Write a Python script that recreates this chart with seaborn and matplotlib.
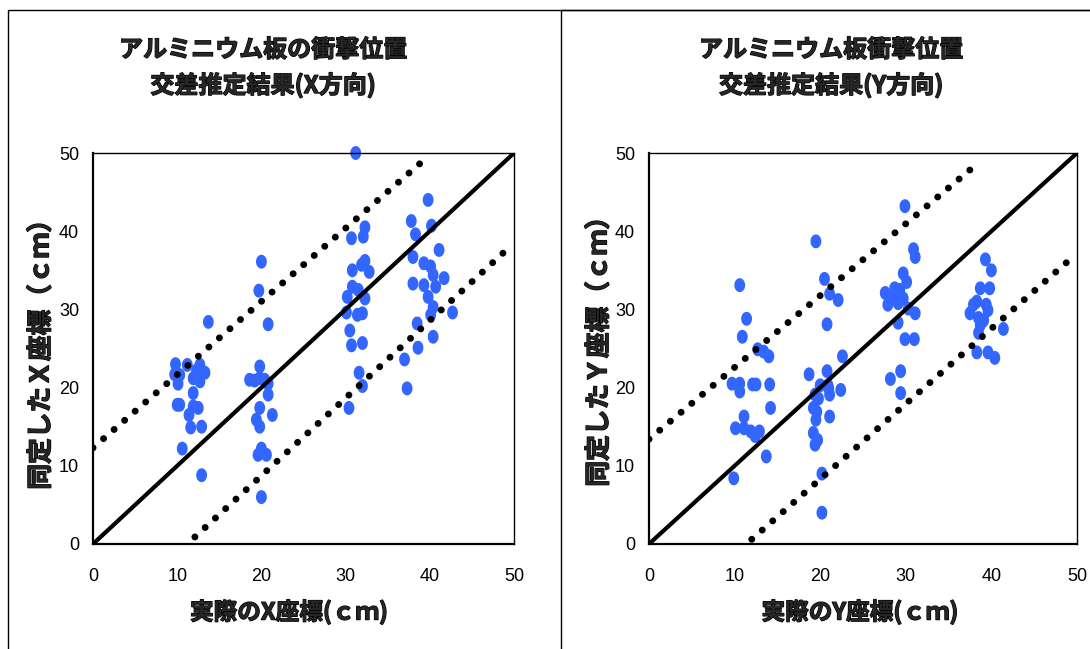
import numpy as np
import matplotlib
matplotlib.use("Agg")
import matplotlib.pyplot as plt
import matplotlib.patheffects as pe
from matplotlib.path import Path
from matplotlib.patches import Rectangle
import seaborn as sns

# X-direction: actual impact x (cm) vs identified x (cm)
x_actual = [9.8, 11.2, 12.7, 9.7, 10.3, 10.1, 13.3, 12.7, 11.9, 12.3, 11.9, 10.0, 10.3, 11.9,
            12.5, 11.4, 11.6, 12.9, 10.6, 12.9, 13.7,
            20.0, 19.7, 20.8, 19.8, 18.6, 19.2, 19.8, 20.4, 20.8, 20.8, 19.8, 21.3, 19.4, 19.8,
            20.0, 19.6, 20.6, 20.0,
            31.2, 32.3, 30.7, 32.1, 32.3, 31.9, 30.8, 32.8, 30.8, 31.5, 30.2, 32.3, 30.1, 31.4,
            32.0, 30.5, 30.7, 32.0, 31.6, 32.0, 30.4,
            39.8, 37.8, 40.2, 38.3, 41.1, 38.0, 39.3, 40.1, 40.4, 40.7, 41.7, 38.0, 39.3, 39.8,
            40.4, 40.1, 42.7, 38.5, 40.4, 38.6, 37.0, 37.3]
x_identified = [23.0, 22.9, 22.9, 21.7, 21.6, 20.5, 21.9, 20.8, 21.2, 22.2, 19.3, 17.8, 17.8, 17.6,
                17.4, 16.5, 14.9, 15.0, 12.2, 8.8, 28.4,
                36.1, 32.4, 28.1, 22.7, 21.0, 20.9, 21.2, 21.0, 20.5, 19.1, 17.4, 16.5, 15.9, 15.0,
                12.2, 11.4, 11.4, 6.0,
                50.0, 40.5, 39.1, 39.3, 36.2, 35.7, 35.0, 34.8, 32.9, 32.5, 31.6, 31.4, 29.6, 29.3,
                29.5, 27.3, 25.4, 25.7, 21.9, 20.2, 17.4,
                44.0, 41.3, 40.7, 39.6, 37.6, 36.7, 35.9, 35.5, 34.4, 32.9, 34.0, 33.3, 33.1, 31.6,
                30.3, 29.3, 29.6, 28.2, 26.5, 25.1, 23.6, 19.9]

# Y-direction: actual impact y (cm) vs identified y (cm)
y_actual = [10.6, 11.4, 10.9, 12.7, 13.4, 14.0, 9.7, 10.6, 10.6, 12.1, 12.5, 14.1, 14.2, 11.1,
            10.1, 11.1, 11.9, 12.9, 12.4, 13.7, 9.9,
            19.5, 20.5, 21.1, 22.1, 20.8, 22.6, 18.7, 20.8, 20.0, 20.9, 21.0, 21.1, 22.4, 19.4,
            19.8, 19.2, 19.6, 19.5, 21.1, 19.2, 19.7, 19.4, 20.2, 20.2,
            29.9, 30.9, 31.1, 29.7, 30.1, 28.7, 29.3, 27.6, 28.2, 28.5, 27.9, 29.1, 29.7, 30.3,
            31.1, 29.1, 29.9, 31.0, 29.4, 28.2, 29.4,
            39.3, 40.0, 38.7, 39.8, 38.3, 37.9, 37.5, 39.4, 39.6, 38.5, 39.1, 38.7, 41.4, 38.5,
            38.3, 39.6, 40.4]
y_identified = [33.1, 28.8, 26.5, 24.9, 24.6, 24.0, 20.5, 20.5, 19.5, 20.4, 20.4, 20.4, 17.4, 16.3,
                14.8, 14.8, 14.4, 14.4, 13.8, 11.2, 8.4,
                38.7, 33.9, 32.0, 31.2, 28.1, 24.0, 21.7, 22.1, 20.3, 20.3, 19.9, 19.1, 19.7, 19.1,
                18.6, 17.4, 16.9, 15.9, 16.3, 14.2, 13.3, 12.7, 9.0, 4.0,
                43.2, 37.7, 36.7, 34.6, 33.5, 32.7, 32.5, 32.1, 31.2, 31.6, 30.6, 30.8, 31.4, 30.1,
                29.5, 28.3, 26.2, 26.2, 22.1, 21.1, 19.3,
                36.4, 35.0, 32.7, 32.7, 31.0, 30.6, 29.5, 30.6, 29.9, 28.9, 28.6, 28.0, 27.5, 27.0,
                24.5, 24.5, 23.8]

# Reference lines: ideal y = x, and upper / lower error bands
ideal = [0, 50]
x_upper_band = ([0.0, 39.2], [12.3, 49.0])
x_lower_band = ([12.1, 49.2], [0.9, 37.7])
y_upper_band = ([0.0, 38.0], [13.4, 48.3])
y_lower_band = ([12.0, 49.2], [0.6, 36.4])

ticks = [0, 10, 20, 30, 40, 50]

titles = ["アルミニウム板の衝撃位置\n交差推定結果(X方向)",
          "アルミニウム板衝撃位置\n交差推定結果(Y方向)"]
xlabels = ["実際のX座標(ｃｍ)", "実際のY座標(ｃｍ)"]
ylabels = ["同定したＸ座標（ｃｍ）", "同定したＹ座標（ｃｍ）"]

sns.set_style("white")
plt.rcParams["font.family"] = ["Liberation Sans", "DejaVu Sans"]
cjk = ["Noto Sans CJK JP", "DejaVu Sans"]
heavy = [pe.withStroke(linewidth=0.9, foreground="black")]

W, H = 1090, 649
fig = plt.figure(figsize=(W / 100, H / 100), dpi=100)

# slightly tall ellipse for the measurement markers
theta = np.linspace(0, 2 * np.pi, 48)
ellipse = Path(np.column_stack([0.78 * np.cos(theta), np.sin(theta)]), closed=True)

panels = [
    dict(ax=[93, 514], xs=x_actual, ys=x_identified, up=x_upper_band, lo=x_lower_band,
         box=(8, 541 + 600), title_x=263, xlab_x=289, ylab_x=41, ylab_y=348),
    dict(ax=[649, 1077], xs=y_actual, ys=y_identified, up=y_upper_band, lo=y_lower_band,
         box=(561, 1200), title_x=831, xlab_x=860, ylab_x=599, ylab_y=345),
]
top_px, bot_px = 153, 544

for i, p in enumerate(panels):
    l, r = p["ax"]
    ax = fig.add_axes([l / W, (H - bot_px) / H, (r - l) / W, (bot_px - top_px) / H])

    sns.scatterplot(x=p["xs"], y=p["ys"], ax=ax, marker=ellipse, s=100, color="#3366ff",
                    edgecolor="none", linewidth=0, zorder=2, clip_on=False)
    sns.lineplot(x=ideal, y=ideal, ax=ax, color="black", linewidth=3.0, zorder=3,
                 solid_capstyle="butt", sort=False, estimator=None)
    for band in (p["up"], p["lo"]):
        sns.lineplot(x=band[0], y=band[1], ax=ax, color="black", linewidth=5.0,
                     linestyle=(0, (0.01, 2.0)), dash_capstyle="round", zorder=3,
                     sort=False, estimator=None)

    ax.set_xlim(0, 50)
    ax.set_ylim(0, 50)
    ax.set_xticks(ticks)
    ax.set_yticks(ticks)
    ax.tick_params(direction="in", length=5, width=1.0, color="black",
                   labelsize=13, labelcolor="black")
    ax.tick_params(axis="x", pad=17)
    ax.tick_params(axis="y", pad=10)
    ax.set_xlabel("")
    ax.set_ylabel("")
    for side, sp in ax.spines.items():
        sp.set_visible(True)
        sp.set_color("black")
        sp.set_linewidth(1.6 if side in ("bottom", "left") else 1.0)

    # panel frame
    bx0, bx1 = p["box"]
    fig.add_artist(Rectangle((bx0 / W, -0.2), (bx1 - bx0) / W, 0.2 + (H - 10) / H,
                             transform=fig.transFigure, fill=False, edgecolor="black",
                             linewidth=1.0, clip_on=False))

    fig.text(p["title_x"] / W, 1 - 68 / H, titles[i], ha="center", va="center",
             family=cjk, fontsize=17.3, fontweight="bold", linespacing=1.5,
             path_effects=heavy)
    fig.text(p["xlab_x"] / W, 1 - 612 / H, xlabels[i], ha="center", va="center",
             family=cjk, fontsize=17, fontweight="bold", path_effects=heavy)
    fig.text(p["ylab_x"] / W, 1 - p["ylab_y"] / H, ylabels[i], ha="center", va="center",
             rotation=90, family=cjk, fontsize=18.5, fontweight="bold", path_effects=heavy)

fig.savefig("out.png", dpi=100, facecolor="white")
